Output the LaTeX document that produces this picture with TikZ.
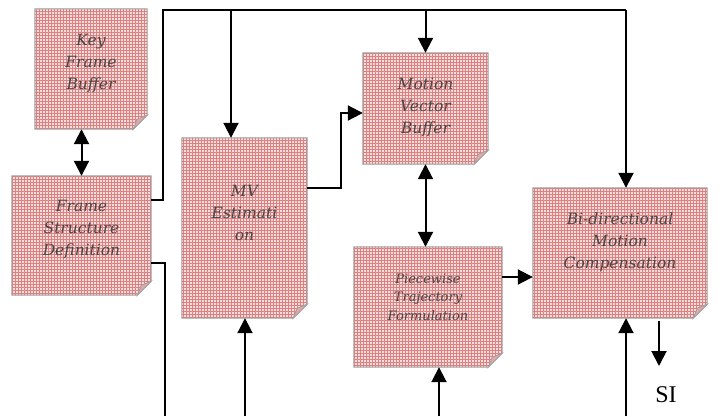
\documentclass[tikz,border=0pt]{standalone}
\usepackage{fontspec}
\setmainfont{Liberation Serif}
\newfontfamily\notefont{DejaVu Serif}
\usetikzlibrary{arrows.meta, patterns, calc, backgrounds}
\definecolor{notefill}{RGB}{246,222,222}
\definecolor{notegrid}{RGB}{220,128,128}
\definecolor{noteedge}{RGB}{160,160,160}
\definecolor{notetext}{RGB}{70,70,70}
\definecolor{notefold}{RGB}{226,168,168}

% body of a note block, folded at the bottom right
\newcommand{\notebody}[1]{%
	\begin{pgfonlayer}{background}
		\path[preaction={fill=notefill}, pattern=grid, pattern color=notegrid, draw=noteedge, line width=1pt]
			(#1.north west) -- (#1.north east) -- ($(#1.south east)+(0pt,14pt)$) -- ($(#1.south east)+(-14pt,0pt)$) -- (#1.south west) -- cycle;
		\path[fill=notefold, draw=noteedge, line width=0.8pt]
			($(#1.south east)+(0pt,14pt)$) -- ($(#1.south east)+(-14pt,0pt)$) -- ($(#1.south east)+(-10pt,10pt)$) -- cycle;
	\end{pgfonlayer}}

\begin{document}
\begin{tikzpicture}[x=1pt, y=-1pt,
				note/.style={rectangle, inner sep=0pt},
				notelabel/.style={font=\notefont\itshape\fontsize{15.5}{22}\selectfont, text=notetext, align=center},
				smalllabel/.style={font=\notefont\itshape\fontsize{13}{18.5}\selectfont, text=notetext, align=center},
				wire/.style={line width=2pt, black},
				arrowstyle/.style={wire, -{Triangle[length=15pt, width=15pt]}},
				biarrow/.style={wire, {Triangle[length=15pt, width=15pt]}-{Triangle[length=15pt, width=15pt]}}
			]
			\useasboundingbox (0,0) rectangle (723,416);

			% --- Blocks ---
			\node[note, minimum width=112, minimum height=120, label={[notelabel, yshift=6pt]center:{Key\\Frame\\Buffer}}] (kfb) at (91,69) {};
			\node[note, minimum width=139, minimum height=119, label={[notelabel, yshift=6pt]center:{Frame\\Structure\\Definition}}] (fsd) at (81.5,235.5) {};
			\node[note, minimum width=125, minimum height=180, label={[notelabel, yshift=15pt]center:{MV\\Estimati\\on}}] (mve) at (244.5,228) {};
			\node[note, minimum width=125, minimum height=111, label={[notelabel, yshift=1.5pt]center:{Motion\\Vector\\Buffer}}] (mvb) at (425.5,108.5) {};
			\node[note, minimum width=148, minimum height=120, label={[smalllabel, yshift=10pt]center:{Piecewise\\Trajectory\\Formulation}}] (ptf) at (428,307) {};
			\node[note, minimum width=174, minimum height=130, label={[notelabel, yshift=11pt]center:{Bi-directional\\Motion\\Compensation}}] (bmc) at (620,253) {};

			\foreach \n in {kfb,fsd,mve,mvb,ptf,bmc}
				\notebody{\n};

			% --- Output ---
			\node[font=\fontsize{24}{24}\selectfont, inner sep=0pt] (si) at (666,395) {SI};

			% --- Free ends ---
			\coordinate (busL) at (163,10);
			\coordinate (busR) at (626,10);
			\coordinate (mvin) at (231,10);
			\coordinate (fsdout) at (165,416);
			\coordinate (mvsrc) at (245,416);
			\coordinate (ptfsrc) at (439,416);
			\coordinate (bmcsrc) at (626,416);
			\coordinate (siin) at (659,366);

			% --- Connections ---
			\draw[biarrow] (fsd.north |- kfb.south) -- (fsd.north);

			\draw[wire] ([yshift=35.5pt]fsd.east) -| (busL) -- (busR);
			\draw[arrowstyle] (busR) -- (busR |- bmc.north);
			\draw[arrowstyle] (mvin) -- (mvin |- mve.north);
			\draw[arrowstyle] (mvb.north |- busL) -- (mvb.north);

			\draw[wire] ([yshift=-27.5pt]fsd.east) -| (fsdout);

			\draw[arrowstyle] ([yshift=40pt]mve.east) -- ++(34,0) |- ([yshift=-4.5pt]mvb.west);

			\draw[biarrow] (mvb.south) -- (mvb.south |- ptf.north);

			\draw[arrowstyle] ([yshift=30pt]ptf.east) -- ([yshift=30pt]ptf.east -| bmc.west);

			\draw[arrowstyle] (mvsrc) -- (mvsrc |- mve.south);
			\draw[arrowstyle] (ptfsrc) -- (ptfsrc |- ptf.south);
			\draw[arrowstyle] (bmcsrc) -- (bmcsrc |- bmc.south);

			\draw[arrowstyle] (siin |- bmc.south) ++(0,3) -- (siin);

		\end{tikzpicture}
\end{document}
